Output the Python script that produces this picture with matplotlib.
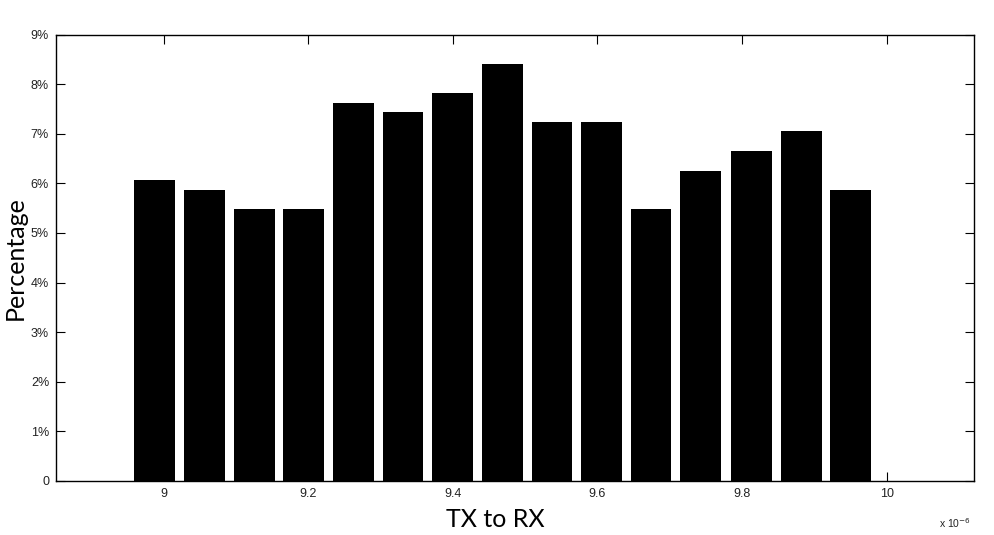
import matplotlib.pyplot as plt

# bin centres (x 1e-6) and share of samples per bin in %
bin_centers = [8.987, 9.056, 9.125, 9.193, 9.262, 9.331, 9.400, 9.469,
               9.537, 9.606, 9.674, 9.743, 9.813, 9.882, 9.950]
percentages = [6.07, 5.87, 5.48, 5.48, 7.63, 7.44, 7.83, 8.41,
               7.24, 7.24, 5.48, 6.26, 6.65, 7.05, 5.87]
x_ticks = [9.0, 9.2, 9.4, 9.6, 9.8, 10.0]
x_tick_labels = ['9', '9.2', '9.4', '9.6', '9.8', '10']
y_ticks = [0, 1, 2, 3, 4, 5, 6, 7, 8, 9]
y_tick_labels = ['0', '1%', '2%', '3%', '4%', '5%', '6%', '7%', '8%', '9%']


def main():
    fig = plt.figure(figsize=(9.95, 5.35), dpi=100)
    ax = fig.add_axes([0.0563, 0.1015, 0.9227, 0.8335])

    ax.bar(bin_centers, percentages, width=0.0565, color='black', zorder=2)
    ax.set_axisbelow(True)

    ax.set_xlim(8.851, 10.121)
    ax.set_ylim(0, 9)
    ax.set_xticks(x_ticks)
    ax.set_xticklabels(x_tick_labels)
    ax.set_yticks(y_ticks)
    ax.set_yticklabels(y_tick_labels)

    ax.tick_params(direction='in', length=6.5, width=0.8, top=True, right=True,
                   labelsize=9, colors='black', pad=5)
    for lbl in ax.get_xticklabels() + ax.get_yticklabels():
        lbl.set_fontfamily('Liberation Sans')
        lbl.set_color('#222222')
    for sp in ax.spines.values():
        sp.set_linewidth(1.0)

    ax.set_xlabel('TX to RX', fontsize=18, family='Lato', labelpad=6,
                  x=0.479, ha='center')
    ax.set_ylabel('Percentage', fontsize=18, family='Lato', labelpad=3)
    ax.text(0.997, -0.095, r'x 10$^{-6}$', transform=ax.transAxes, ha='right',
            va='center', fontsize=7.5, family='Liberation Sans',
            color='#222222')

    fig.savefig('out.png', dpi=100)


if __name__ == "__main__":
    main()
